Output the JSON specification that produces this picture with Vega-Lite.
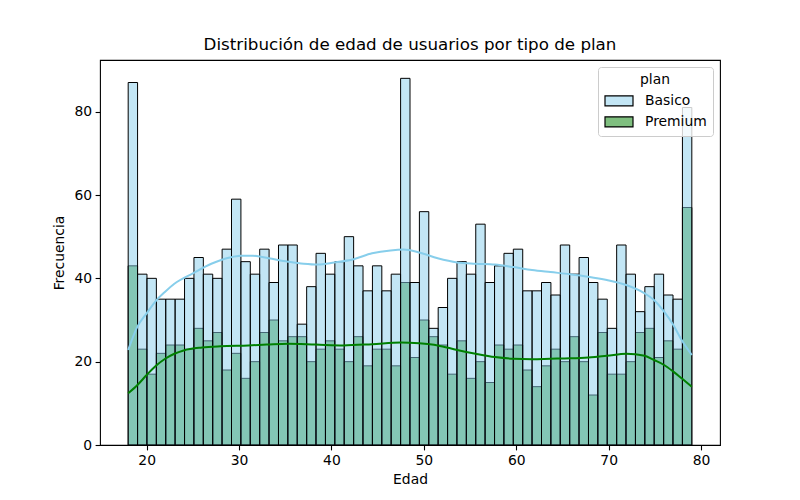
{
  "$schema": "https://vega.github.io/schema/vega-lite/v6.json",
  "width": 620,
  "height": 385,
  "autosize": {"type": "none"},
  "padding": {"left": 100, "top": 60, "right": 80, "bottom": 55},
  "background": "white",
  "config": {
    "font": "DejaVu Sans",
    "view": {"stroke": "black", "strokeWidth": 1.1},
    "axis": {"grid": false, "domain": false, "tickColor": "black", "tickSize": 4.9, "tickWidth": 1.1, "labelFontSize": 13.9, "labelColor": "black", "labelPadding": 3.5, "titleFontSize": 13.9, "titleFontWeight": "normal", "titleColor": "black"}
  },
  "title": {"text": "Distribución de edad de usuarios por tipo de plan", "fontSize": 16.7, "fontWeight": "normal", "color": "black", "anchor": "middle", "offset": 6, "font": "DejaVu Sans"},
  "datasets": {
    "bins": [
      {"a": 18, "b": 19.0167, "basico": 87, "premium": 43},
      {"a": 19.0167, "b": 20.0333, "basico": 41, "premium": 23},
      {"a": 20.0333, "b": 21.05, "basico": 40, "premium": 17},
      {"a": 21.05, "b": 22.0667, "basico": 35, "premium": 22},
      {"a": 22.0667, "b": 23.0833, "basico": 35, "premium": 24},
      {"a": 23.0833, "b": 24.1, "basico": 35, "premium": 24},
      {"a": 24.1, "b": 25.1167, "basico": 40, "premium": 23},
      {"a": 25.1167, "b": 26.1333, "basico": 45, "premium": 28},
      {"a": 26.1333, "b": 27.15, "basico": 41, "premium": 25},
      {"a": 27.15, "b": 28.1667, "basico": 40, "premium": 27},
      {"a": 28.1667, "b": 29.1833, "basico": 47, "premium": 18},
      {"a": 29.1833, "b": 30.2, "basico": 59, "premium": 22},
      {"a": 30.2, "b": 31.2167, "basico": 44, "premium": 16},
      {"a": 31.2167, "b": 32.2333, "basico": 41, "premium": 20},
      {"a": 32.2333, "b": 33.25, "basico": 47, "premium": 27},
      {"a": 33.25, "b": 34.2667, "basico": 39, "premium": 30},
      {"a": 34.2667, "b": 35.2833, "basico": 48, "premium": 25},
      {"a": 35.2833, "b": 36.3, "basico": 48, "premium": 26},
      {"a": 36.3, "b": 37.3167, "basico": 29, "premium": 26},
      {"a": 37.3167, "b": 38.3333, "basico": 38, "premium": 20},
      {"a": 38.3333, "b": 39.35, "basico": 46, "premium": 23},
      {"a": 39.35, "b": 40.3667, "basico": 41, "premium": 25},
      {"a": 40.3667, "b": 41.3833, "basico": 44, "premium": 23},
      {"a": 41.3833, "b": 42.4, "basico": 50, "premium": 20},
      {"a": 42.4, "b": 43.4167, "basico": 43, "premium": 26},
      {"a": 43.4167, "b": 44.4333, "basico": 37, "premium": 19},
      {"a": 44.4333, "b": 45.45, "basico": 43, "premium": 23},
      {"a": 45.45, "b": 46.4667, "basico": 37, "premium": 23},
      {"a": 46.4667, "b": 47.4833, "basico": 41, "premium": 19},
      {"a": 47.4833, "b": 48.5, "basico": 88, "premium": 39},
      {"a": 48.5, "b": 49.5167, "basico": 39, "premium": 21},
      {"a": 49.5167, "b": 50.5333, "basico": 56, "premium": 30},
      {"a": 50.5333, "b": 51.55, "basico": 28, "premium": 26},
      {"a": 51.55, "b": 52.5667, "basico": 33, "premium": 24},
      {"a": 52.5667, "b": 53.5833, "basico": 40, "premium": 17},
      {"a": 53.5833, "b": 54.6, "basico": 44, "premium": 25},
      {"a": 54.6, "b": 55.6167, "basico": 41, "premium": 16},
      {"a": 55.6167, "b": 56.6333, "basico": 53, "premium": 20},
      {"a": 56.6333, "b": 57.65, "basico": 39, "premium": 15},
      {"a": 57.65, "b": 58.6667, "basico": 43, "premium": 24},
      {"a": 58.6667, "b": 59.6833, "basico": 46, "premium": 23},
      {"a": 59.6833, "b": 60.7, "basico": 47, "premium": 24},
      {"a": 60.7, "b": 61.7167, "basico": 37, "premium": 18},
      {"a": 61.7167, "b": 62.7333, "basico": 37, "premium": 14},
      {"a": 62.7333, "b": 63.75, "basico": 39, "premium": 19},
      {"a": 63.75, "b": 64.7667, "basico": 36, "premium": 23},
      {"a": 64.7667, "b": 65.7833, "basico": 48, "premium": 20},
      {"a": 65.7833, "b": 66.8, "basico": 41, "premium": 26},
      {"a": 66.8, "b": 67.8167, "basico": 45, "premium": 20},
      {"a": 67.8167, "b": 68.8333, "basico": 39, "premium": 12},
      {"a": 68.8333, "b": 69.85, "basico": 35, "premium": 27},
      {"a": 69.85, "b": 70.8667, "basico": 28, "premium": 17},
      {"a": 70.8667, "b": 71.8833, "basico": 48, "premium": 17},
      {"a": 71.8833, "b": 72.9, "basico": 41, "premium": 20},
      {"a": 72.9, "b": 73.9167, "basico": 32, "premium": 27},
      {"a": 73.9167, "b": 74.9333, "basico": 38, "premium": 28},
      {"a": 74.9333, "b": 75.95, "basico": 41, "premium": 21},
      {"a": 75.95, "b": 76.9667, "basico": 36, "premium": 25},
      {"a": 76.9667, "b": 77.9833, "basico": 35, "premium": 23},
      {"a": 77.9833, "b": 79, "basico": 81, "premium": 57}
    ],
    "kde": [
      {"plan": "Basico", "x": 18, "y": 22.8},
      {"plan": "Basico", "x": 19, "y": 28.4},
      {"plan": "Basico", "x": 20, "y": 31.6},
      {"plan": "Basico", "x": 21, "y": 34.6},
      {"plan": "Basico", "x": 22, "y": 36.8},
      {"plan": "Basico", "x": 23, "y": 38.7},
      {"plan": "Basico", "x": 25, "y": 41.2},
      {"plan": "Basico", "x": 27, "y": 43.5},
      {"plan": "Basico", "x": 29, "y": 45.0},
      {"plan": "Basico", "x": 30.2, "y": 45.4},
      {"plan": "Basico", "x": 31.5, "y": 45.4},
      {"plan": "Basico", "x": 33.2, "y": 44.8},
      {"plan": "Basico", "x": 35.3, "y": 44.0},
      {"plan": "Basico", "x": 37, "y": 43.5},
      {"plan": "Basico", "x": 38.5, "y": 43.3},
      {"plan": "Basico", "x": 40.3, "y": 43.8},
      {"plan": "Basico", "x": 42.4, "y": 44.6},
      {"plan": "Basico", "x": 44.4, "y": 46.0},
      {"plan": "Basico", "x": 46.4, "y": 46.7},
      {"plan": "Basico", "x": 47.8, "y": 46.9},
      {"plan": "Basico", "x": 49.5, "y": 46.2},
      {"plan": "Basico", "x": 51.5, "y": 44.8},
      {"plan": "Basico", "x": 53.6, "y": 43.8},
      {"plan": "Basico", "x": 55.6, "y": 43.5},
      {"plan": "Basico", "x": 57.7, "y": 43.3},
      {"plan": "Basico", "x": 59.7, "y": 42.7},
      {"plan": "Basico", "x": 61.7, "y": 42.0},
      {"plan": "Basico", "x": 63.7, "y": 41.5},
      {"plan": "Basico", "x": 65.8, "y": 41.0},
      {"plan": "Basico", "x": 67.8, "y": 40.4},
      {"plan": "Basico", "x": 69.8, "y": 39.6},
      {"plan": "Basico", "x": 71.9, "y": 38.4},
      {"plan": "Basico", "x": 73.9, "y": 36.4},
      {"plan": "Basico", "x": 74.9, "y": 34.8},
      {"plan": "Basico", "x": 76.0, "y": 32.0},
      {"plan": "Basico", "x": 77.0, "y": 28.8},
      {"plan": "Basico", "x": 77.9, "y": 25.2},
      {"plan": "Basico", "x": 79.0, "y": 21.6},
      {"plan": "Premium", "x": 18, "y": 12.4},
      {"plan": "Premium", "x": 19, "y": 14.4},
      {"plan": "Premium", "x": 20, "y": 16.8},
      {"plan": "Premium", "x": 21, "y": 19.0},
      {"plan": "Premium", "x": 22, "y": 20.7},
      {"plan": "Premium", "x": 23, "y": 21.9},
      {"plan": "Premium", "x": 24, "y": 22.7},
      {"plan": "Premium", "x": 26, "y": 23.4},
      {"plan": "Premium", "x": 28, "y": 23.7},
      {"plan": "Premium", "x": 31, "y": 23.9},
      {"plan": "Premium", "x": 33, "y": 24.1},
      {"plan": "Premium", "x": 35.3, "y": 24.3},
      {"plan": "Premium", "x": 38.3, "y": 24.1},
      {"plan": "Premium", "x": 41.3, "y": 23.9},
      {"plan": "Premium", "x": 44.4, "y": 24.2},
      {"plan": "Premium", "x": 47.5, "y": 24.6},
      {"plan": "Premium", "x": 49.5, "y": 24.4},
      {"plan": "Premium", "x": 51.5, "y": 23.9},
      {"plan": "Premium", "x": 53.6, "y": 22.8},
      {"plan": "Premium", "x": 55.6, "y": 21.9},
      {"plan": "Premium", "x": 57.7, "y": 21.1},
      {"plan": "Premium", "x": 59.7, "y": 20.7},
      {"plan": "Premium", "x": 61.7, "y": 20.6},
      {"plan": "Premium", "x": 63.7, "y": 20.7},
      {"plan": "Premium", "x": 65.8, "y": 20.8},
      {"plan": "Premium", "x": 67.8, "y": 21.0},
      {"plan": "Premium", "x": 69.8, "y": 21.4},
      {"plan": "Premium", "x": 71.9, "y": 21.9},
      {"plan": "Premium", "x": 73.9, "y": 21.4},
      {"plan": "Premium", "x": 74.9, "y": 20.4},
      {"plan": "Premium", "x": 76.0, "y": 19.2},
      {"plan": "Premium", "x": 77.0, "y": 17.6},
      {"plan": "Premium", "x": 77.9, "y": 16.0},
      {"plan": "Premium", "x": 79.0, "y": 14.0}
    ]
  },
  "layer": [
    {
      "data": {"name": "bins"},
      "mark": {"type": "bar", "fillOpacity": 0.5, "stroke": "black", "strokeWidth": 1},
      "encoding": {
        "x": {"field": "a", "type": "quantitative", "scale": {"domain": [14.95, 82.05], "nice": false, "zero": false}, "axis": {"values": [20, 30, 40, 50, 60, 70, 80], "title": "Edad", "titlePadding": 5}},
        "x2": {"field": "b"},
        "y": {"field": "premium", "type": "quantitative", "stack": null, "scale": {"domain": [0, 92.4], "nice": false}, "axis": {"values": [0, 20, 40, 60, 80], "title": "Frecuencia", "titlePadding": 7}},
        "y2": {"datum": 0},
        "fill": {"datum": "Premium", "type": "nominal", "scale": {"domain": ["Basico", "Premium"], "range": ["#87ceeb", "#008000"]},
          "legend": {"title": "plan", "orient": "top-right", "offset": 7, "padding": 6, "strokeColor": "#cccccc", "fillColor": "rgba(255,255,255,0.8)", "cornerRadius": 3,
            "titleAnchor": "middle", "titleFontSize": 13.9, "titleFontWeight": "normal", "titleColor": "black", "titlePadding": 6,
            "labelFontSize": 13.9, "labelColor": "black", "labelOffset": 11,
            "symbolType": "M-1,-0.36H1V0.36H-1Z", "symbolSize": 784, "symbolStrokeColor": "black", "symbolStrokeWidth": 1,
            "clipHeight": 16, "rowPadding": 5,
            "encode": {"symbols": {"update": {"fill": {"scale": "fill", "field": "value"}, "fillOpacity": {"value": 0.5}, "stroke": {"value": "black"}, "strokeWidth": {"value": 1.2}, "strokeOpacity": {"value": 1}, "opacity": {"value": 1}}}}}}
      }
    },
    {
      "data": {"name": "bins"},
      "mark": {"type": "bar", "fillOpacity": 0.5, "stroke": "black", "strokeWidth": 1},
      "encoding": {
        "x": {"field": "a", "type": "quantitative"},
        "x2": {"field": "b"},
        "y": {"field": "basico", "type": "quantitative", "stack": null},
        "y2": {"datum": 0},
        "fill": {"datum": "Basico", "type": "nominal"}
      }
    },
    {
      "data": {"name": "kde"},
      "transform": [{"filter": "datum.plan === 'Premium'"}],
      "mark": {"type": "line", "strokeWidth": 2, "interpolate": "monotone", "color": "#008000"},
      "encoding": {
        "x": {"field": "x", "type": "quantitative"},
        "y": {"field": "y", "type": "quantitative"}
      }
    },
    {
      "data": {"name": "kde"},
      "transform": [{"filter": "datum.plan === 'Basico'"}],
      "mark": {"type": "line", "strokeWidth": 2, "interpolate": "monotone", "color": "#87ceeb"},
      "encoding": {
        "x": {"field": "x", "type": "quantitative"},
        "y": {"field": "y", "type": "quantitative"}
      }
    }
  ]
}
